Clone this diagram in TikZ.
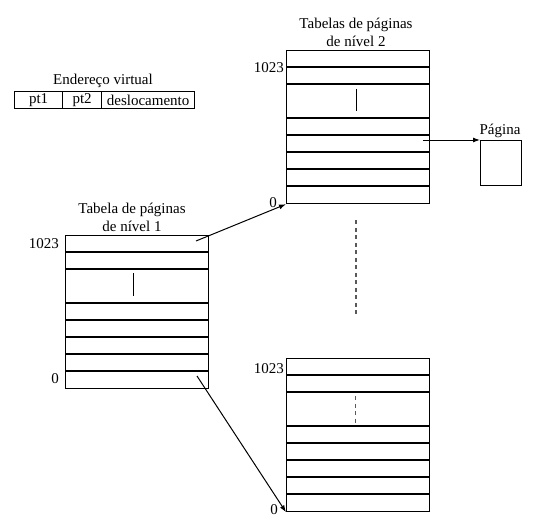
\documentclass[tikz,border=0pt]{standalone}
\usepackage{fontspec}
\setmainfont{Liberation Serif}
\usetikzlibrary{arrows.meta}
\begin{document}
\begin{tikzpicture}[x=1pt,y=-1pt,
  txt/.style={inner sep=0pt, font=\fontsize{15pt}{18pt}\selectfont},
  tbl/.style={draw, line width=1.2pt, minimum width=143pt, minimum height=153pt, inner sep=0pt, anchor=north west},
  rowline/.style={line width=1.2pt},
  cell/.style={draw, line width=1.2pt, minimum height=17pt, inner sep=0pt, anchor=north west, font=\fontsize{15pt}{18pt}\selectfont},
  arr/.style={line width=1pt, -{Latex[length=7pt,width=5pt]}},
  bar/.style={line width=1pt}]
\useasboundingbox (0,0) rectangle (551,532);

% virtual address
\node[txt] (vtitle) at (103,81) {Endereço virtual};
\node[cell, minimum width=48pt] (pt1) at (14,91) {pt1};
\node[cell, minimum width=39pt] (pt2) at (62,91) {pt2};
\node[cell, minimum width=93pt] (desl) at (101,91) {deslocamento};

% tables
\node[tbl] (T1) at (65,235) {};
\node[tbl] (T2) at (286,50) {};
\node[tbl] (T3) at (286,358) {};
\foreach \T in {T1,T2,T3}{
  \foreach \d in {17,34,68,85,102,119,136}{
    \draw[rowline] ([yshift=-\d pt]\T.north west) -- ([yshift=-\d pt]\T.north east);
  }
}

% titles
\node[txt, align=center] (t1title) at (132,217) {Tabela de páginas\\de nível 1};
\node[txt, align=center] (t2title) at (356,32) {Tabelas de páginas\\de nível 2};

% index labels
\node[txt, anchor=east] (l1a) at (59,244) {1023};
\node[txt, anchor=east] (l1b) at (59,379) {0};
\node[txt, anchor=east] (l2a) at (284,68) {1023};
\node[txt, anchor=east] (l2b) at (277,203) {0};
\node[txt, anchor=east] (l3a) at (284,369) {1023};
\node[txt, anchor=east] (l3b) at (278,510) {0};

% vertical ellipsis bars
\draw[bar] (133,273) -- (133,296);
\draw[bar] (356,89) -- (356,111);
\draw[bar, dash pattern=on 4pt off 3.5pt, gray!70!black] (355,396) -- (355,423);
\draw[line width=1.2pt, dash pattern=on 4pt off 3.5pt, gray!70!black] (356,220) -- (356,314);

% page
\node[draw, line width=1.2pt, minimum width=41pt, minimum height=45pt, inner sep=0pt, anchor=north west] (pg) at (480,140) {};
\node[txt, anchor=south] (pgl) at (500,138) {Página};

% connectors
\coordinate (s1) at (196,241);
\coordinate (s2) at (197,376);
\coordinate (s3) at (423,140);
\draw[arr] (s1) -- (T2.south west);
\draw[arr] (s2) -- (T3.south west);
\draw[arr] (s3) -- (s3 -| pg.west);
\end{tikzpicture}
\end{document}
